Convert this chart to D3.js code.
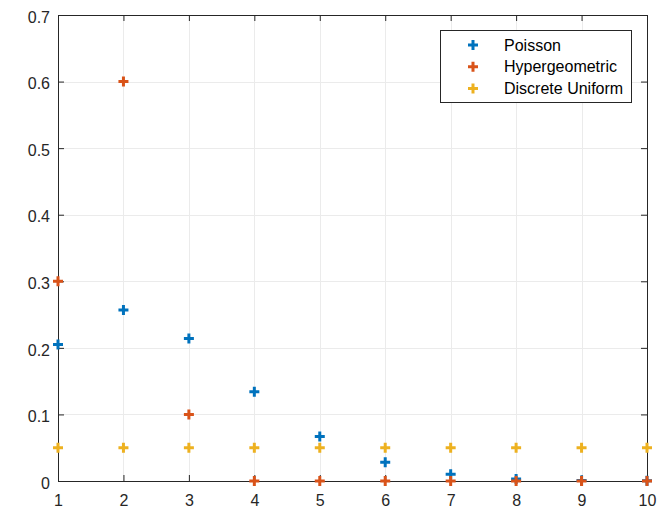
<!DOCTYPE html>
<html>
<head>
<meta charset="utf-8">
<script src="https://cdn.jsdelivr.net/npm/d3@7"></script>
<style>
  body { margin: 0; background: #fff; }
  svg { display: block; font-family: "Liberation Sans", Arial, sans-serif; }
</style>
</head>
<body>
<svg id="chart" width="666" height="508"></svg>
<script>
// values
var xs = [1, 2, 3, 4, 5, 6, 7, 8, 9, 10];
var poisson = [0.205, 0.257, 0.214, 0.134, 0.067, 0.028, 0.010, 0.003, 0.0009, 0.0002];
var hyper = [0.3, 0.6, 0.1, 0, 0, 0, 0, 0, 0, 0];
var uniform = [0.05, 0.05, 0.05, 0.05, 0.05, 0.05, 0.05, 0.05, 0.05, 0.05];
var seriesNames = ["Poisson", "Hypergeometric", "Discrete Uniform"];
var seriesColors = ["#0072BD", "#D95319", "#EDB120"];
var xTicks = [1, 2, 3, 4, 5, 6, 7, 8, 9, 10];
var yTicks = [0, 0.1, 0.2, 0.3, 0.4, 0.5, 0.6, 0.7];

var width = 666, height = 508;
var margin = { top: 15, right: 19, bottom: 27, left: 58 };

var x = d3.scaleLinear().domain([1, 10]).range([margin.left, width - margin.right]);
var y = d3.scaleLinear().domain([0, 0.7]).range([height - margin.bottom, margin.top]);

var svg = d3.select("#chart");

// grid
var grid = svg.append("g").attr("stroke", "#ebebeb").attr("stroke-width", 1);
grid.selectAll(".gx").data(xTicks.slice(1, -1)).join("line")
    .attr("x1", function (d) { return Math.round(x(d)) + 0.5; })
    .attr("x2", function (d) { return Math.round(x(d)) + 0.5; })
    .attr("y1", y(0)).attr("y2", y(0.7));
grid.selectAll(".gy").data(yTicks.slice(1, -1)).join("line")
    .attr("y1", function (d) { return Math.round(y(d)) + 0.5; })
    .attr("y2", function (d) { return Math.round(y(d)) + 0.5; })
    .attr("x1", x(1)).attr("x2", x(10));

// axes (ticks inward, on all four sides)
var tickLen = 6;
var xAxis = function (g) { return g
    .attr("transform", "translate(0," + y(0) + ")")
    .call(d3.axisBottom(x).tickValues(xTicks).tickSizeInner(-tickLen).tickSizeOuter(0))
    .call(function (g) { g.selectAll("text").attr("y", 25).attr("dy", "0"); }); };
var yAxis = function (g) { return g
    .attr("transform", "translate(" + x(1) + ",0)")
    .call(d3.axisLeft(y).tickValues(yTicks).tickFormat(function (d) { return d === 0 ? "0" : d3.format(".1f")(d); })
        .tickSizeInner(-tickLen).tickSizeOuter(0).tickPadding(8))
    .call(function (g) { g.selectAll("text").attr("dy", "0.45em"); }); };
var xTop = function (g) { return g
    .attr("transform", "translate(0," + y(0.7) + ")")
    .call(d3.axisTop(x).tickValues(xTicks).tickSizeInner(-tickLen).tickSizeOuter(0).tickFormat("")); };
var yRight = function (g) { return g
    .attr("transform", "translate(" + x(10) + ",0)")
    .call(d3.axisRight(y).tickValues(yTicks).tickSizeInner(-tickLen).tickSizeOuter(0).tickFormat("")); };

[xAxis, yAxis, xTop, yRight].forEach(function (ax) {
  svg.append("g").call(ax)
    .call(function (g) {
      g.selectAll(".domain, line").attr("stroke", "#262626");
      g.selectAll("text").attr("fill", "#262626").attr("font-size", "16px")
        .attr("font-family", "Liberation Sans, Arial, sans-serif");
    });
});

// markers
function plusPath(cx, cy, s) {
  return "M" + (cx - s) + "," + cy + "H" + (cx + s) + "M" + cx + "," + (cy - s) + "V" + (cy + s);
}
var allSeries = [poisson, hyper, uniform];
allSeries.forEach(function (vals, i) {
  svg.append("g")
    .selectAll("path")
    .data(vals.map(function (v, j) { return [xs[j], v]; }))
    .join("path")
    .attr("d", function (d) { return plusPath(x(d[0]), y(d[1]), 5); })
    .attr("stroke", seriesColors[i])
    .attr("stroke-width", 3)
    .attr("fill", "none");
});

// legend
var lg = svg.append("g");
lg.append("rect")
  .attr("x", 440.5).attr("y", 30.5).attr("width", 191).attr("height", 72)
  .attr("fill", "#fff").attr("stroke", "#262626").attr("stroke-width", 1);
seriesNames.forEach(function (name, i) {
  var cy = 45 + i * 21.7;
  lg.append("path").attr("d", plusPath(473, cy, 5))
    .attr("stroke", seriesColors[i]).attr("stroke-width", 3).attr("fill", "none");
  lg.append("text").attr("x", 504).attr("y", cy).attr("dy", "0.35em")
    .attr("font-size", "16px").attr("fill", "#000").text(name);
});
</script>
</body>
</html>
